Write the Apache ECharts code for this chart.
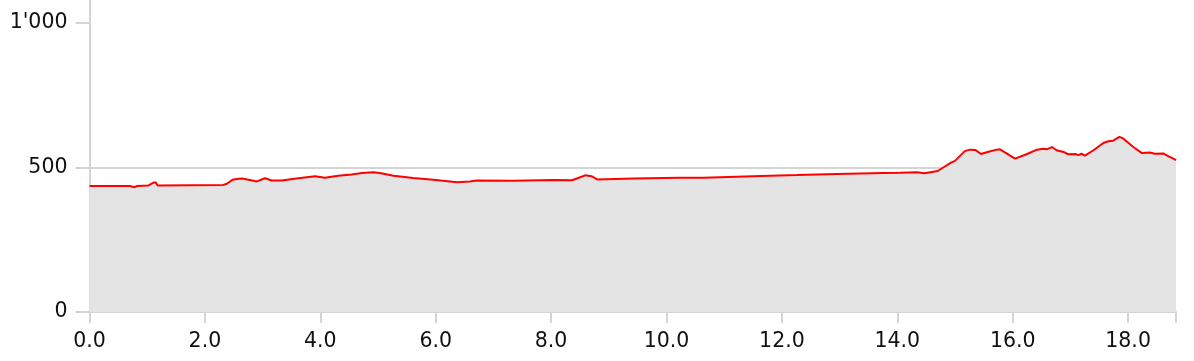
<!DOCTYPE html>
<html>
<head>
<meta charset="utf-8">
<script src="https://cdn.jsdelivr.net/npm/echarts@6/dist/echarts.min.js"></script>
<style>
html,body{margin:0;padding:0;background:#fff;}
#chart{width:1194px;height:361px;}
</style>
</head>
<body>
<div id="chart"></div>
<script>
// Distance along the route (km)
const distanceKm = [0, 0.70, 0.78, 0.82, 1.02, 1.11, 1.15, 1.18, 2.32, 2.38, 2.49, 2.64, 2.78, 2.90, 3.04, 3.16, 3.33, 3.62, 3.91, 4.08, 4.31, 4.54, 4.72, 4.92, 5.03, 5.27, 5.61, 5.96, 6.37, 6.59, 6.71, 7.34, 8.04, 8.36, 8.47, 8.59, 8.70, 8.80, 9.42, 10.23, 10.26, 10.64, 11.50, 12.26, 12.95, 13.76, 14.05, 14.34, 14.47, 14.70, 14.81, 14.93, 15.00, 15.17, 15.26, 15.35, 15.45, 15.55, 15.72, 15.78, 16.04, 16.24, 16.42, 16.53, 16.59, 16.68, 16.76, 16.88, 16.96, 17.08, 17.14, 17.19, 17.25, 17.40, 17.57, 17.66, 17.74, 17.85, 17.92, 18.09, 18.24, 18.38, 18.46, 18.61, 18.70, 18.74, 18.83];
// Elevation (m)
const elevationM = [436, 436, 432, 436, 438, 448, 448, 438, 440, 444, 459, 462, 457, 452, 463, 455, 455, 463, 470, 465, 472, 476, 481, 484, 481, 472, 464, 458, 449, 452, 455, 454, 457, 456, 464, 473, 470, 459, 462, 465, 461, 465, 470, 474, 478, 481, 482, 484, 480, 488, 502, 517, 523, 557, 562, 561, 547, 553, 562, 563, 531, 546, 562, 565, 563, 571, 560, 554, 546, 547, 543, 548, 541, 560, 585, 591, 593, 606, 600, 571, 550, 552, 548, 549, 539, 535, 526];
// Tick values
const xTicksLabelled = [0, 2, 4, 6, 8, 10, 12, 14, 16, 18];
const yTicks = [0, 500, 1000];

const xMax = distanceKm[distanceKm.length - 1];
const points = distanceKm.map((d, i) => [d, elevationM[i]]);

const chart = echarts.init(document.getElementById('chart'), null, {renderer: 'canvas'});
const axisGray = '#d4d4d4';
const font = {fontFamily: 'DejaVu Sans', fontSize: 20.5, color: '#111'};

function fmtThousands(v) {
  return String(Math.round(v)).replace(/\B(?=(\d{3})+(?!\d))/g, "'");
}

chart.setOption({
  animation: false,
  grid: {left: 89.5, right: 18, top: 0, bottom: 49, containLabel: false},
  xAxis: {
    type: 'value',
    min: 0,
    max: xMax,
    interval: 2,
    axisLine: {show: true, lineStyle: {color: axisGray, width: 2}},
    axisTick: {show: true, length: 11, customValues: xTicksLabelled.concat([xMax]), lineStyle: {color: axisGray, width: 2}},
    splitLine: {show: false},
    axisLabel: Object.assign({
      margin: 19,
      customValues: xTicksLabelled,
      formatter: v => v.toFixed(1)
    }, font)
  },
  yAxis: {
    type: 'value',
    min: 0,
    max: 1080,
    interval: 500,
    axisLine: {show: true, lineStyle: {color: axisGray, width: 2}},
    axisTick: {show: true, length: 14, customValues: yTicks, lineStyle: {color: axisGray, width: 2}},
    splitLine: {show: true, showMaxLine: false, lineStyle: {color: axisGray, width: 2}},
    axisLabel: Object.assign({
      margin: 22,
      verticalAlign: 'middle',
      padding: [6, 0, 0, 0],
      customValues: yTicks,
      formatter: v => fmtThousands(v)
    }, font)
  },
  series: [{
    type: 'line',
    data: points,
    showSymbol: false,
    symbol: 'none',
    lineStyle: {color: '#ff0000', width: 2},
    areaStyle: {color: '#e4e4e4', opacity: 1},
    z: 3
  }]
});
</script>
</body>
</html>
